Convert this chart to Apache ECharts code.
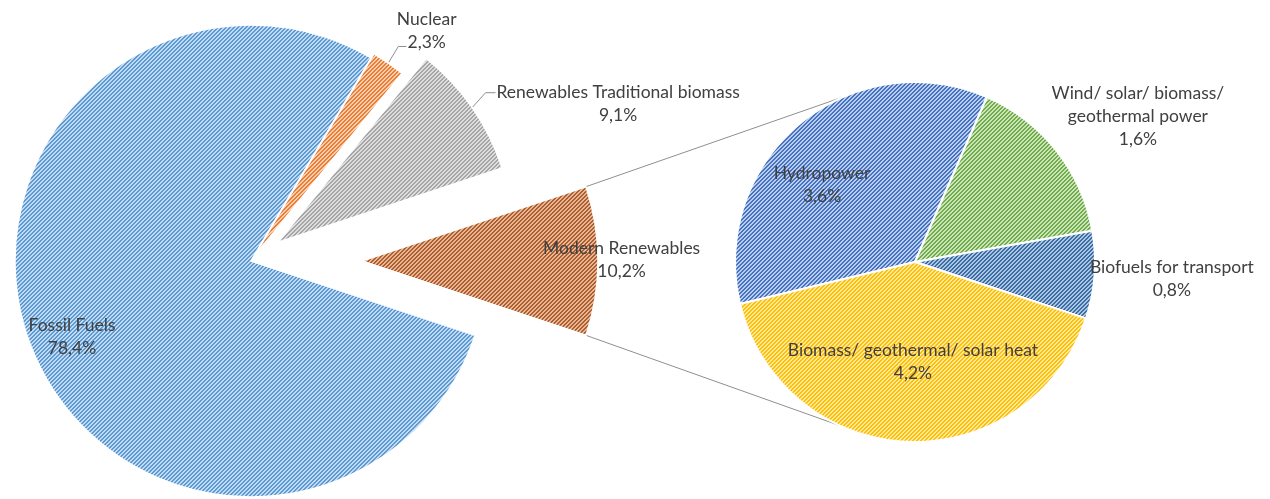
<!DOCTYPE html>
<html><head><meta charset="utf-8">
<script src="https://cdn.jsdelivr.net/npm/echarts@6/dist/echarts.min.js"></script>
<style>html,body{margin:0;padding:0;background:#fff}#c{width:1270px;height:499px}</style>
</head><body><div id="c"></div>
<script>
// ---------------- data ----------------
const mainNames  = ['Fossil Fuels', 'Nuclear', 'Renewables Traditional biomass', 'Modern Renewables'];
const mainValues = [78.4, 2.3, 9.1, 10.2];
const subNames   = ['Hydropower', 'Wind/ solar/ biomass/\ngeothermal power', 'Biofuels for transport', 'Biomass/ geothermal/ solar heat'];
const subValues  = [3.6, 1.6, 0.8, 4.2];

// ---------------- style ----------------
const mainColors = [['#5B9BD5', '#C3DAF0'], ['#ED7D31', '#F9CFB3'], ['#A5A5A5', '#DEDEDE'], ['#AE5D2D', '#E8B797']];
const subColors  = [['#4472C4', '#BCCDEA'], ['#70AD47', '#CDE5BE'], ['#3B6EA5', '#ABC5E3'], ['#FFC000', '#FFE8A3']];
const TEXT = '#404040';
const FONT = 'Lato';

const C1 = [251, 261], R1 = 236;          // main pie
const explode = [0, 5, 33, 111];          // px offset of each main slice along its bisector
const C2 = [915, 262], R2 = 180;          // secondary pie
const subStart = 193.5;
// label anchors relative to each slice centre: [angle deg, radius factor]
const mainLabelPos = [[203, 0.824], [52.6, 1.206], [22.2, 1.556], [0.3, 1.10]];
const subLabelPos  = [[140.4, 0.67], [33.2, 1.48], [-3.8, 1.43], [-91.2, 0.553]];

function hatch(dark, light) {
  const c = document.createElement('canvas'); c.width = 4; c.height = 4;
  const g = c.getContext('2d');
  g.fillStyle = light; g.fillRect(0, 0, 4, 4);
  g.fillStyle = dark;
  for (let x = 0; x < 4; x++) for (let y = 0; y < 4; y++) if (((x + y) % 4) < 2) g.fillRect(x, y, 1, 1);
  return { image: c, repeat: 'repeat' };
}

// font size fitted to reference text width
const mctx = document.createElement('canvas').getContext('2d');
mctx.font = '20px ' + FONT;
const FS = Math.round(20 * 244 / mctx.measureText('Renewables Traditional biomass').width * 2) / 2;
const LH = Math.round(FS * 1.32);

const rad = d => d * Math.PI / 180;
const fmt = v => v.toFixed(1).replace('.', ',') + '%';

// angles of main pie (clockwise, Modern Renewables centred on 0°)
const total = mainValues.reduce((a, b) => a + b, 0);
const degs = mainValues.map(v => v / total * 360);
const mainStart = -degs[3] / 2;
const mids = [];
{ let a = mainStart; degs.forEach(d => { mids.push(a - d / 2); a -= d; }); }
const centers = mids.map((m, i) => [C1[0] + explode[i] * Math.cos(rad(m)), C1[1] - explode[i] * Math.sin(rad(m))]);

const labelStyle = { color: TEXT, fontFamily: FONT, fontSize: FS, lineHeight: LH, align: 'center' };

const series = mainNames.map((_, k) => ({
  type: 'pie', silent: true, clockwise: true, startAngle: mainStart,
  center: centers[k], radius: R1, avoidLabelOverlap: false, animation: false,
  emphasis: { disabled: true },
  labelLine: { show: false },
  data: mainNames.map((n, i) => ({
    name: n, value: mainValues[i],
    itemStyle: i === k ? { color: hatch(mainColors[i][0], mainColors[i][1]), borderColor: '#fff', borderWidth: 1.5 }
                       : { color: 'rgba(0,0,0,0)', borderWidth: 0 },
    label: i === k ? Object.assign({ show: true, position: 'inside', formatter: p => p.name + '\n' + fmt(p.value) }, labelStyle)
                   : { show: false }
  })),
  labelLayout: p => {
    const [a, f] = mainLabelPos[p.dataIndex];
    return { x: centers[k][0] + f * R1 * Math.cos(rad(a)), y: centers[k][1] - f * R1 * Math.sin(rad(a)), align: 'center', verticalAlign: 'middle' };
  }
}));

series.push({
  type: 'pie', silent: true, clockwise: true, startAngle: subStart,
  center: C2, radius: R2, avoidLabelOverlap: false, animation: false,
  emphasis: { disabled: true }, labelLine: { show: false },
  data: subNames.map((n, i) => ({
    name: n, value: subValues[i],
    itemStyle: { color: hatch(subColors[i][0], subColors[i][1]), borderColor: '#fff', borderWidth: 2 }
  })),
  label: Object.assign({ show: true, position: 'inside', formatter: p => p.name + '\n' + fmt(p.value) }, labelStyle),
  labelLayout: p => {
    const [a, f] = subLabelPos[p.dataIndex];
    return { x: C2[0] + f * R2 * Math.cos(rad(a)), y: C2[1] - f * R2 * Math.sin(rad(a)), align: 'center', verticalAlign: 'middle' };
  }
});

// connector lines from Modern Renewables slice corners to secondary pie
const M = centers[3];
const half = degs[3] / 2;
const cTop = [M[0] + R1 * Math.cos(rad(half)), M[1] - R1 * Math.sin(rad(half))];
const cBot = [M[0] + R1 * Math.cos(rad(-half)), M[1] - R1 * Math.sin(rad(-half))];
const sTop = [C2[0] + R2 * Math.cos(rad(113.5)), C2[1] - R2 * Math.sin(rad(113.5))];
const sBot = [C2[0] + R2 * Math.cos(rad(-114.5)), C2[1] - R2 * Math.sin(rad(-114.5))];

// leader lines for Nuclear and Traditional biomass
function leader(i, d1, d2) {
  const c = centers[i], m = mids[i];
  const p0 = [c[0] + R1 * Math.cos(rad(m)), c[1] - R1 * Math.sin(rad(m))];
  const p1 = [p0[0] + d1[0], p0[1] + d1[1]];
  const p2 = [p1[0] + d2, p1[1]];
  return [p0, p1, p2];
}
const lineStyle = { stroke: '#8f8f8f', lineWidth: 1, fill: null };
const graphic = [
  { type: 'polyline', silent: true, shape: { points: [cTop, sTop] }, style: lineStyle },
  { type: 'polyline', silent: true, shape: { points: [cBot, sBot] }, style: lineStyle },
  { type: 'polyline', silent: true, shape: { points: leader(1, [10, -16.5], 8) }, style: lineStyle },
  { type: 'polyline', silent: true, shape: { points: leader(2, [13.5, -15], 10) }, style: lineStyle }
];

const chart = echarts.init(document.getElementById('c'), null, { renderer: 'canvas' });
chart.setOption({ backgroundColor: '#fff', animation: false, series, graphic });
</script></body></html>
